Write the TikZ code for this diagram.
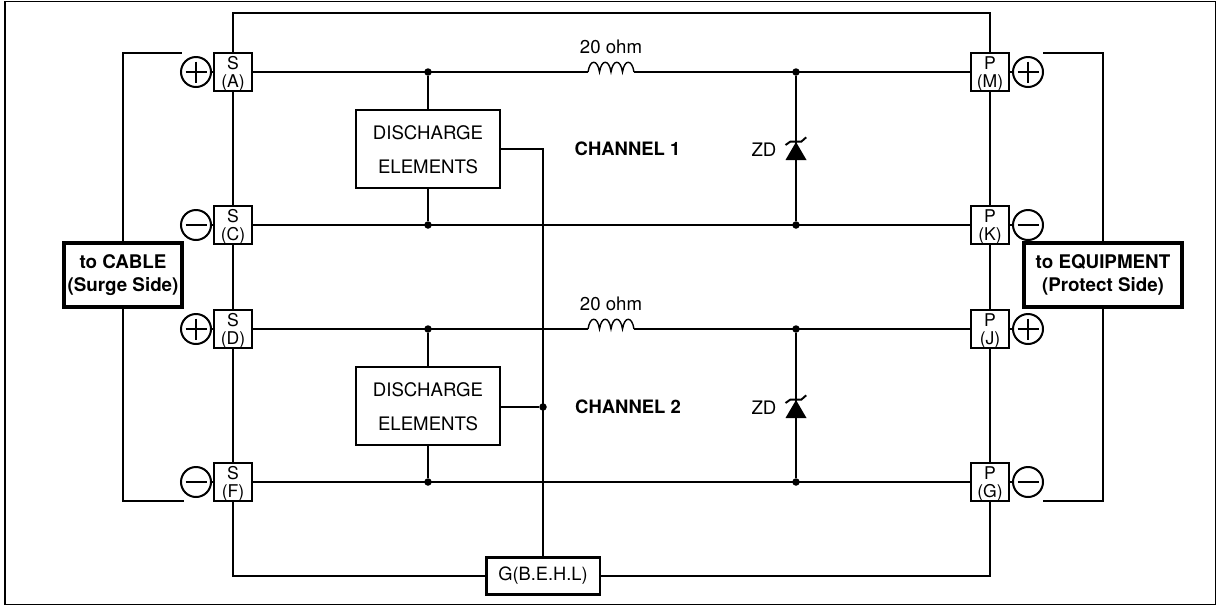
\documentclass[tikz,border=0pt]{standalone}
\usepackage{fontspec}
\setmainfont{TeX Gyre Heros}
\usepackage{tikz}
\tikzset{
    wire/.style={line width=1.14pt},
    termbox/.style={draw,wire,fill=white,align=center,inner sep=0pt,minimum width=0.76cm,minimum height=0.76cm,text height=19.5pt,font=\fontsize{10}{10.4}\selectfont},
    signring/.style={draw,wire,circle,inner sep=0pt,minimum size=0.6cm},
    signline/.style={line width=1pt},
    sidebox/.style={draw,line width=1.8pt,align=center,inner sep=0pt,minimum height=1.28cm,font=\fontsize{10.7}{13.3}\bfseries\selectfont},
    elembox/.style={draw,wire,align=center,inner sep=0pt,minimum width=2.88cm,minimum height=1.56cm,text height=27.7pt,font=\fontsize{10.6}{19}\selectfont},
    gndbox/.style={draw,line width=1.7pt,inner sep=0pt,minimum width=2.28cm,minimum height=0.74cm,font=\fontsize{10.4}{12}\selectfont},
    dot/.style={circle,fill,inner sep=0pt,minimum size=0.15cm},
    label/.style={inner sep=0pt,font=\fontsize{10.6}{12}\selectfont},
    chan/.style={inner sep=0pt,font=\fontsize{10.5}{12}\bfseries\selectfont},
    coil/.style={line width=0.8pt},
    zener/.pic={
        \fill (-10.5,0)--(10.5,0)--(0,-18)--cycle;
        \draw[line width=1.1pt] (-10.5,-15)--(-5.8,-18.3)--(5.2,-18.3)--(10.2,-22.7);
    }
}

\begin{document}
\begin{tikzpicture}[x=0.02cm,y=-0.02cm]
                \useasboundingbox (0,0) rectangle (1217,606);
                \draw[line width=0.9pt] (5,1.5) rectangle (1215.5,604.5);
                % terminals
                \node[termbox] (sa) at (233,72) {S\\(A)};
                \node[termbox] (sc) at (233,225) {S\\(C)};
                \node[termbox] (sd) at (233,329) {S\\(D)};
                \node[termbox] (sf) at (233,482) {S\\(F)};
                \node[termbox] (pm) at (990,72) {P\\(M)};
                \node[termbox] (pk) at (990,225) {P\\(K)};
                \node[termbox] (pj) at (990,329) {P\\(J)};
                \node[termbox] (pg) at (990,482) {P\\(G)};
                \node[signring] (plusa) at (196,72) {};
                \node[signring] (minusc) at (196,225) {};
                \node[signring] (plusd) at (196,329) {};
                \node[signring] (minusf) at (196,482) {};
                \node[signring] (plusm) at (1028,72) {};
                \node[signring] (minusk) at (1028,225) {};
                \node[signring] (plusj) at (1028,329) {};
                \node[signring] (minusg) at (1028,482) {};
                \draw[signline] (plusa) +(-10.5,0)--+(10.5,0) +(0,-10.5)--+(0,10.5);
                \draw[signline] (plusd) +(-10.5,0)--+(10.5,0) +(0,-10.5)--+(0,10.5);
                \draw[signline] (plusm) +(-10.5,0)--+(10.5,0) +(0,-10.5)--+(0,10.5);
                \draw[signline] (plusj) +(-10.5,0)--+(10.5,0) +(0,-10.5)--+(0,10.5);
                \draw[signline] (minusc) +(-10.5,0)--+(10.5,0);
                \draw[signline] (minusf) +(-10.5,0)--+(10.5,0);
                \draw[signline] (minusk) +(-10.5,0)--+(10.5,0);
                \draw[signline] (minusg) +(-10.5,0)--+(10.5,0);
                \draw[wire] (plusa)--(sa);
                \draw[wire] (minusc)--(sc);
                \draw[wire] (plusd)--(sd);
                \draw[wire] (minusf)--(sf);
                \draw[wire] (pm)--(plusm);
                \draw[wire] (pk)--(minusk);
                \draw[wire] (pj)--(plusj);
                \draw[wire] (pg)--(minusg);
                % side boxes
                \node[sidebox,minimum width=2.36cm] (cable) at (123,275) {to CABLE\\(Surge Side)};
                \node[sidebox,minimum width=3.16cm] (equip) at (1103,275) {to EQUIPMENT\\(Protect Side)};
                \coordinate (cabletop) at (182,53);
                \coordinate (cablebot) at (184,501);
                \coordinate (equiptop) at (1043,53);
                \coordinate (equipbot) at (1043,501);
                \draw[wire] (cable.north) |- (cabletop);
                \draw[wire] (cable.south) |- (cablebot);
                \draw[wire] (equip.north) |- (equiptop);
                \draw[wire] (equip.south) |- (equipbot);
                % ground loop
                \node[gndbox] (gnd) at (543,576) {G(B.E.H.L)};
                \coordinate (topleft) at (233,13);
                \coordinate (topright) at (990,13);
                \coordinate (botleft) at (233,576);
                \coordinate (botright) at (990,576);
                \draw[wire] (sa)--(topleft)--(topright)--(pm);
                \draw[wire] (sf)--(botleft)--(gnd);
                \draw[wire] (gnd)--(botright)--(pg);
                \draw[wire] (sa)--(sc);
                \draw[wire] (sc)--(sd);
                \draw[wire] (sd)--(sf);
                \draw[wire] (pm)--(pk);
                \draw[wire] (pk)--(pj);
                \draw[wire] (pj)--(pg);
                % channel 1
                \node[dot] (dota) at (428,72) {};
                \node[dot] (dotc) at (428,225) {};
                \node[dot] (dotm) at (796,72) {};
                \node[dot] (dotk) at (796,225) {};
                \coordinate (coila) at (588,72);
                \coordinate (coilb) at (634,72);
                \draw[wire] (sa)--(coila);
                \draw[wire] (coilb)--(pm);
                \draw[coil] (coila) .. controls +(2,-13) and +(-2,-13) .. ++(11.5,0) .. controls +(2,-13) and +(-2,-13) .. ++(11.5,0) .. controls +(2,-13) and +(-2,-13) .. ++(11.5,0) .. controls +(2,-13) and +(-2,-13) .. (coilb);
                \node[label] (ohma) at (611,47) {20 ohm};
                \draw[wire] (sc)--(pk);
                \node[elembox] (elema) at (428,149) {DISCHARGE\\ELEMENTS};
                \draw[wire] (dota)--(elema);
                \draw[wire] (elema)--(dotc);
                \node[chan] (chana) at (627.5,149) {CHANNEL 1};
                \draw[wire] (dotm)--(dotk);
                \pic at (796,160) {zener};
                \node[label] (zda) at (764,150) {ZD};
                % channel 2
                \node[dot] (dotd) at (428,329) {};
                \node[dot] (dotf) at (428,482) {};
                \node[dot] (dotj) at (796,329) {};
                \node[dot] (dotg) at (796,482) {};
                \coordinate (coilc) at (588,329);
                \coordinate (coild) at (634,329);
                \draw[wire] (sd)--(coilc);
                \draw[wire] (coild)--(pj);
                \draw[coil] (coilc) .. controls +(2,-13) and +(-2,-13) .. ++(11.5,0) .. controls +(2,-13) and +(-2,-13) .. ++(11.5,0) .. controls +(2,-13) and +(-2,-13) .. ++(11.5,0) .. controls +(2,-13) and +(-2,-13) .. (coild);
                \node[label] (ohmb) at (611,304) {20 ohm};
                \draw[wire] (sf)--(pg);
                \node[elembox] (elemb) at (428,406) {DISCHARGE\\ELEMENTS};
                \draw[wire] (dotd)--(elemb);
                \draw[wire] (elemb)--(dotf);
                \node[chan] (chanb) at (628,407) {CHANNEL 2};
                \draw[wire] (dotj)--(dotg);
                \pic at (796,418) {zener};
                \node[label] (zdb) at (764,408) {ZD};
                % discharge to ground
                \node[dot] (dotb) at (543,407) {};
                \draw[wire] (elema.east) -| (gnd.north);
                \draw[wire] (elemb.east |- dotb)--(dotb);
\end{tikzpicture}
\end{document}
